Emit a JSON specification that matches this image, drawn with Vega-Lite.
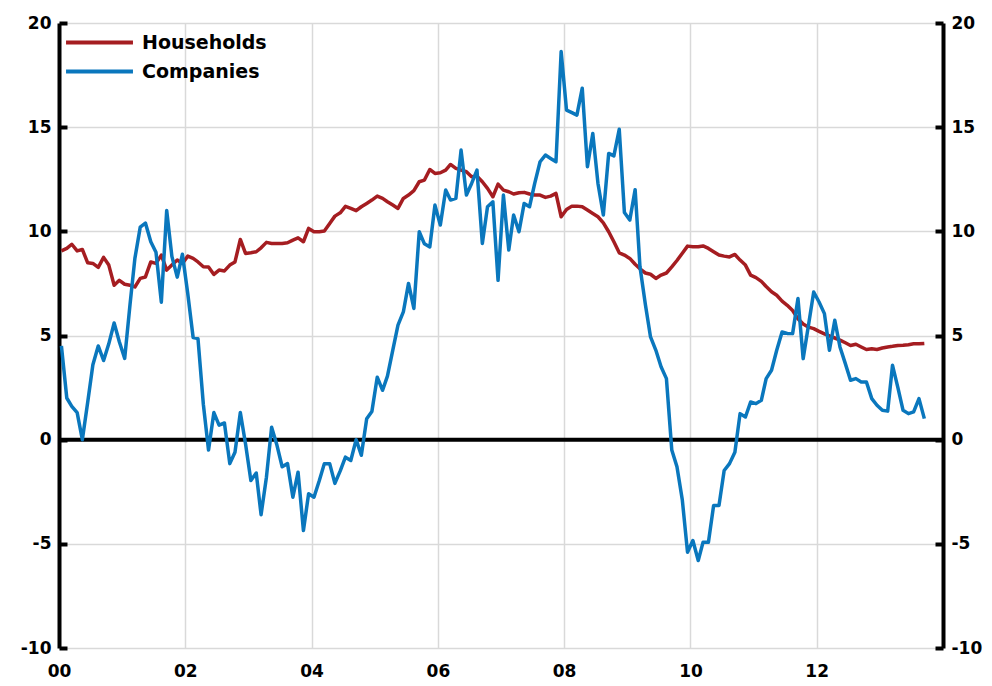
{
  "$schema": "https://vega.github.io/schema/vega-lite/v6.json",
  "width": 884,
  "height": 625,
  "autosize": {"type": "none"},
  "padding": {"left": 59, "top": 23, "right": 49, "bottom": 38},
  "background": "white",
  "config": {
    "view": {"stroke": null},
    "font": "DejaVu Sans",
    "axis": {
      "labelFont": "DejaVu Sans",
      "labelFontSize": 17,
      "labelFontWeight": "bold",
      "labelColor": "black",
      "gridColor": "#d9d9d9",
      "gridWidth": 1.5,
      "title": null
    }
  },
  "layer": [
    {
      "data": {"values": [{}]},
      "mark": {"type": "rule", "color": "black", "strokeWidth": 4},
      "encoding": {
        "y": {
          "datum": 0,
          "type": "quantitative",
          "scale": {"domain": [-10, 20], "nice": false},
          "axis": {
            "orient": "left",
            "values": [-10, -5, 0, 5, 10, 15, 20],
            "labelExpr": "toString(datum.value)",
            "grid": true,
            "domainColor": "black",
            "domainWidth": 4,
            "tickColor": "black",
            "tickWidth": 4,
            "tickSize": -8,
            "labelPadding": 16
          }
        }
      }
    },
    {
      "data": {
        "values": [
          {"date": "2000-01-15", "Households": 9.06, "Companies": 4.5},
          {"date": "2000-02-15", "Households": 9.18, "Companies": 2.0},
          {"date": "2000-03-15", "Households": 9.38, "Companies": 1.6},
          {"date": "2000-04-15", "Households": 9.06, "Companies": 1.3},
          {"date": "2000-05-15", "Households": 9.13, "Companies": 0.0},
          {"date": "2000-06-15", "Households": 8.49, "Companies": 1.8},
          {"date": "2000-07-15", "Households": 8.46, "Companies": 3.6},
          {"date": "2000-08-15", "Households": 8.27, "Companies": 4.5},
          {"date": "2000-09-15", "Households": 8.75, "Companies": 3.8},
          {"date": "2000-10-15", "Households": 8.38, "Companies": 4.6},
          {"date": "2000-11-15", "Households": 7.41, "Companies": 5.6},
          {"date": "2000-12-15", "Households": 7.65, "Companies": 4.7},
          {"date": "2001-01-15", "Households": 7.46, "Companies": 3.9},
          {"date": "2001-02-15", "Households": 7.41, "Companies": 6.5},
          {"date": "2001-03-15", "Households": 7.33, "Companies": 8.7},
          {"date": "2001-04-15", "Households": 7.74, "Companies": 10.2},
          {"date": "2001-05-15", "Households": 7.81, "Companies": 10.4},
          {"date": "2001-06-15", "Households": 8.53, "Companies": 9.5},
          {"date": "2001-07-15", "Households": 8.46, "Companies": 9.0},
          {"date": "2001-08-15", "Households": 8.86, "Companies": 6.6},
          {"date": "2001-09-15", "Households": 8.14, "Companies": 11.0},
          {"date": "2001-10-15", "Households": 8.38, "Companies": 8.8},
          {"date": "2001-11-15", "Households": 8.62, "Companies": 7.8},
          {"date": "2001-12-15", "Households": 8.46, "Companies": 8.9},
          {"date": "2002-01-15", "Households": 8.81, "Companies": 7.0},
          {"date": "2002-02-15", "Households": 8.7, "Companies": 4.9},
          {"date": "2002-03-15", "Households": 8.53, "Companies": 4.85},
          {"date": "2002-04-15", "Households": 8.3, "Companies": 1.7},
          {"date": "2002-05-15", "Households": 8.29, "Companies": -0.5},
          {"date": "2002-06-15", "Households": 7.93, "Companies": 1.3},
          {"date": "2002-07-15", "Households": 8.14, "Companies": 0.7},
          {"date": "2002-08-15", "Households": 8.1, "Companies": 0.8},
          {"date": "2002-09-15", "Households": 8.38, "Companies": -1.15},
          {"date": "2002-10-15", "Households": 8.53, "Companies": -0.6},
          {"date": "2002-11-15", "Households": 9.61, "Companies": 1.3},
          {"date": "2002-12-15", "Households": 8.94, "Companies": -0.2},
          {"date": "2003-01-15", "Households": 8.97, "Companies": -1.96},
          {"date": "2003-02-15", "Households": 9.02, "Companies": -1.6},
          {"date": "2003-03-15", "Households": 9.21, "Companies": -3.6},
          {"date": "2003-04-15", "Households": 9.47, "Companies": -1.8},
          {"date": "2003-05-15", "Households": 9.42, "Companies": 0.6},
          {"date": "2003-06-15", "Households": 9.42, "Companies": -0.27},
          {"date": "2003-07-15", "Households": 9.42, "Companies": -1.3},
          {"date": "2003-08-15", "Households": 9.45, "Companies": -1.15},
          {"date": "2003-09-15", "Households": 9.58, "Companies": -2.76},
          {"date": "2003-10-15", "Households": 9.69, "Companies": -1.56},
          {"date": "2003-11-15", "Households": 9.5, "Companies": -4.36},
          {"date": "2003-12-15", "Households": 10.14, "Companies": -2.6},
          {"date": "2004-01-15", "Households": 9.98, "Companies": -2.76},
          {"date": "2004-02-15", "Households": 9.98, "Companies": -1.96},
          {"date": "2004-03-15", "Households": 10.02, "Companies": -1.15},
          {"date": "2004-04-15", "Households": 10.38, "Companies": -1.15},
          {"date": "2004-05-15", "Households": 10.73, "Companies": -2.1},
          {"date": "2004-06-15", "Households": 10.89, "Companies": -1.5},
          {"date": "2004-07-15", "Households": 11.2, "Companies": -0.84},
          {"date": "2004-08-15", "Households": 11.1, "Companies": -1.0},
          {"date": "2004-09-15", "Households": 10.99, "Companies": 0.0},
          {"date": "2004-10-15", "Households": 11.18, "Companies": -0.75},
          {"date": "2004-11-15", "Households": 11.34, "Companies": 1.0},
          {"date": "2004-12-15", "Households": 11.5, "Companies": 1.35},
          {"date": "2005-01-15", "Households": 11.69, "Companies": 3.0},
          {"date": "2005-02-15", "Households": 11.58, "Companies": 2.37},
          {"date": "2005-03-15", "Households": 11.42, "Companies": 3.05},
          {"date": "2005-04-15", "Households": 11.26, "Companies": 4.3},
          {"date": "2005-05-15", "Households": 11.1, "Companies": 5.5},
          {"date": "2005-06-15", "Households": 11.58, "Companies": 6.13},
          {"date": "2005-07-15", "Households": 11.74, "Companies": 7.5},
          {"date": "2005-08-15", "Households": 11.95, "Companies": 6.3},
          {"date": "2005-09-15", "Households": 12.38, "Companies": 9.98},
          {"date": "2005-10-15", "Households": 12.46, "Companies": 9.4},
          {"date": "2005-11-15", "Households": 12.97, "Companies": 9.25},
          {"date": "2005-12-15", "Households": 12.78, "Companies": 11.26},
          {"date": "2006-01-15", "Households": 12.81, "Companies": 10.3},
          {"date": "2006-02-15", "Households": 12.94, "Companies": 11.98},
          {"date": "2006-03-15", "Households": 13.21, "Companies": 11.5},
          {"date": "2006-04-15", "Households": 13.02, "Companies": 11.58},
          {"date": "2006-05-15", "Households": 12.94, "Companies": 13.9},
          {"date": "2006-06-15", "Households": 12.86, "Companies": 11.74},
          {"date": "2006-07-15", "Households": 12.62, "Companies": 12.3},
          {"date": "2006-08-15", "Households": 12.65, "Companies": 12.94},
          {"date": "2006-09-15", "Households": 12.38, "Companies": 9.42},
          {"date": "2006-10-15", "Households": 12.06, "Companies": 11.18},
          {"date": "2006-11-15", "Households": 11.66, "Companies": 11.42},
          {"date": "2006-12-15", "Households": 12.27, "Companies": 7.65},
          {"date": "2007-01-15", "Households": 11.98, "Companies": 11.74},
          {"date": "2007-02-15", "Households": 11.9, "Companies": 9.1},
          {"date": "2007-03-15", "Households": 11.79, "Companies": 10.78},
          {"date": "2007-04-15", "Households": 11.85, "Companies": 9.98},
          {"date": "2007-05-15", "Households": 11.87, "Companies": 11.34},
          {"date": "2007-06-15", "Households": 11.79, "Companies": 11.18},
          {"date": "2007-07-15", "Households": 11.74, "Companies": 12.3},
          {"date": "2007-08-15", "Households": 11.74, "Companies": 13.34},
          {"date": "2007-09-15", "Households": 11.63, "Companies": 13.66},
          {"date": "2007-10-15", "Households": 11.69, "Companies": 13.5},
          {"date": "2007-11-15", "Households": 11.82, "Companies": 13.34},
          {"date": "2007-12-15", "Households": 10.7, "Companies": 18.63},
          {"date": "2008-01-15", "Households": 11.05, "Companies": 15.82},
          {"date": "2008-02-15", "Households": 11.21, "Companies": 15.7},
          {"date": "2008-03-15", "Households": 11.21, "Companies": 15.58},
          {"date": "2008-04-15", "Households": 11.18, "Companies": 16.87},
          {"date": "2008-05-15", "Households": 11.02, "Companies": 13.1},
          {"date": "2008-06-15", "Households": 10.86, "Companies": 14.7},
          {"date": "2008-07-15", "Households": 10.7, "Companies": 12.3},
          {"date": "2008-08-15", "Households": 10.41, "Companies": 10.78},
          {"date": "2008-09-15", "Households": 9.98, "Companies": 13.74},
          {"date": "2008-10-15", "Households": 9.5, "Companies": 13.62},
          {"date": "2008-11-15", "Households": 8.97, "Companies": 14.9},
          {"date": "2008-12-15", "Households": 8.86, "Companies": 10.9},
          {"date": "2009-01-15", "Households": 8.7, "Companies": 10.54},
          {"date": "2009-02-15", "Households": 8.42, "Companies": 12.0},
          {"date": "2009-03-15", "Households": 8.2, "Companies": 8.3},
          {"date": "2009-04-15", "Households": 8.0, "Companies": 6.5},
          {"date": "2009-05-15", "Households": 7.94, "Companies": 4.93},
          {"date": "2009-06-15", "Households": 7.74, "Companies": 4.29},
          {"date": "2009-07-15", "Households": 7.9, "Companies": 3.5},
          {"date": "2009-08-15", "Households": 8.0, "Companies": 2.93},
          {"date": "2009-09-15", "Households": 8.29, "Companies": -0.5},
          {"date": "2009-10-15", "Households": 8.6, "Companies": -1.3},
          {"date": "2009-11-15", "Households": 8.95, "Companies": -2.9},
          {"date": "2009-12-15", "Households": 9.29, "Companies": -5.4},
          {"date": "2010-01-15", "Households": 9.26, "Companies": -4.84},
          {"date": "2010-02-15", "Households": 9.26, "Companies": -5.8},
          {"date": "2010-03-15", "Households": 9.3, "Companies": -4.92},
          {"date": "2010-04-15", "Households": 9.18, "Companies": -4.92},
          {"date": "2010-05-15", "Households": 9.02, "Companies": -3.16},
          {"date": "2010-06-15", "Households": 8.86, "Companies": -3.16},
          {"date": "2010-07-15", "Households": 8.81, "Companies": -1.48},
          {"date": "2010-08-15", "Households": 8.77, "Companies": -1.15},
          {"date": "2010-09-15", "Households": 8.89, "Companies": -0.6},
          {"date": "2010-10-15", "Households": 8.62, "Companies": 1.25},
          {"date": "2010-11-15", "Households": 8.38, "Companies": 1.09},
          {"date": "2010-12-15", "Households": 7.9, "Companies": 1.81},
          {"date": "2011-01-15", "Households": 7.78, "Companies": 1.73},
          {"date": "2011-02-15", "Households": 7.6, "Companies": 1.89},
          {"date": "2011-03-15", "Households": 7.35, "Companies": 2.93},
          {"date": "2011-04-15", "Households": 7.1, "Companies": 3.33},
          {"date": "2011-05-15", "Households": 6.93, "Companies": 4.29},
          {"date": "2011-06-15", "Households": 6.65, "Companies": 5.17},
          {"date": "2011-07-15", "Households": 6.45, "Companies": 5.1},
          {"date": "2011-08-15", "Households": 6.2, "Companies": 5.09},
          {"date": "2011-09-15", "Households": 5.8, "Companies": 6.78},
          {"date": "2011-10-15", "Households": 5.55, "Companies": 3.89},
          {"date": "2011-11-15", "Households": 5.4, "Companies": 5.5},
          {"date": "2011-12-15", "Households": 5.33, "Companies": 7.09},
          {"date": "2012-01-15", "Households": 5.2, "Companies": 6.61},
          {"date": "2012-02-15", "Households": 5.08, "Companies": 6.05},
          {"date": "2012-03-15", "Households": 4.98, "Companies": 4.29},
          {"date": "2012-04-15", "Households": 4.88, "Companies": 5.73},
          {"date": "2012-05-15", "Households": 4.78, "Companies": 4.45},
          {"date": "2012-06-15", "Households": 4.65, "Companies": 3.65},
          {"date": "2012-07-15", "Households": 4.52, "Companies": 2.85},
          {"date": "2012-08-15", "Households": 4.58, "Companies": 2.93},
          {"date": "2012-09-15", "Households": 4.45, "Companies": 2.77},
          {"date": "2012-10-15", "Households": 4.33, "Companies": 2.77},
          {"date": "2012-11-15", "Households": 4.36, "Companies": 1.97},
          {"date": "2012-12-15", "Households": 4.33, "Companies": 1.65},
          {"date": "2013-01-15", "Households": 4.4, "Companies": 1.41},
          {"date": "2013-02-15", "Households": 4.45, "Companies": 1.37},
          {"date": "2013-03-15", "Households": 4.48, "Companies": 3.57},
          {"date": "2013-04-15", "Households": 4.52, "Companies": 2.5},
          {"date": "2013-05-15", "Households": 4.53, "Companies": 1.41},
          {"date": "2013-06-15", "Households": 4.56, "Companies": 1.25},
          {"date": "2013-07-15", "Households": 4.6, "Companies": 1.33},
          {"date": "2013-08-15", "Households": 4.6, "Companies": 1.97},
          {"date": "2013-09-15", "Households": 4.62, "Companies": 1.01}
        ]
      },
      "transform": [{"fold": ["Households", "Companies"], "as": ["series", "value"]}],
      "mark": {"type": "line", "strokeWidth": 3.5, "strokeJoin": "round"},
      "encoding": {
        "x": {
          "field": "date",
          "type": "temporal",
          "scale": {
            "type": "utc",
            "domain": [
              {"year": 2000, "month": 1, "date": 1, "utc": true},
              {"year": 2014, "month": 1, "date": 1, "utc": true}
            ]
          },
          "axis": {
            "values": [
              {"year": 2000, "month": 1, "date": 1, "utc": true},
              {"year": 2002, "month": 1, "date": 1, "utc": true},
              {"year": 2004, "month": 1, "date": 1, "utc": true},
              {"year": 2006, "month": 1, "date": 1, "utc": true},
              {"year": 2008, "month": 1, "date": 1, "utc": true},
              {"year": 2010, "month": 1, "date": 1, "utc": true},
              {"year": 2012, "month": 1, "date": 1, "utc": true}
            ],
            "format": "%y",
            "labelFlush": false,
            "grid": true,
            "domain": false,
            "ticks": false,
            "labelPadding": 15
          }
        },
        "y": {
          "field": "value",
          "type": "quantitative",
          "scale": {"domain": [-10, 20], "nice": false},
          "axis": {
            "orient": "right",
            "values": [-10, -5, 0, 5, 10, 15, 20],
            "labelExpr": "toString(datum.value)",
            "grid": false,
            "domainColor": "black",
            "domainWidth": 4,
            "tickColor": "black",
            "tickWidth": 4,
            "tickSize": -8,
            "labelPadding": 16
          }
        },
        "color": {
          "field": "series",
          "type": "nominal",
          "sort": ["Households", "Companies"],
          "scale": {"domain": ["Households", "Companies"], "range": ["#a51d21", "#0a77bd"]},
          "legend": {
            "title": null,
            "orient": "none",
            "legendX": 31,
            "legendY": 10,
            "padding": 0,
            "symbolType": "M-8,0H8",
            "symbolSize": 70,
            "symbolStrokeWidth": 4,
            "labelFont": "DejaVu Sans",
            "labelFontSize": 19,
            "labelFontWeight": "bold",
            "labelColor": "black",
            "labelOffset": 33,
            "rowPadding": 9
          }
        }
      }
    }
  ],
  "resolve": {"axis": {"y": "independent"}}
}
